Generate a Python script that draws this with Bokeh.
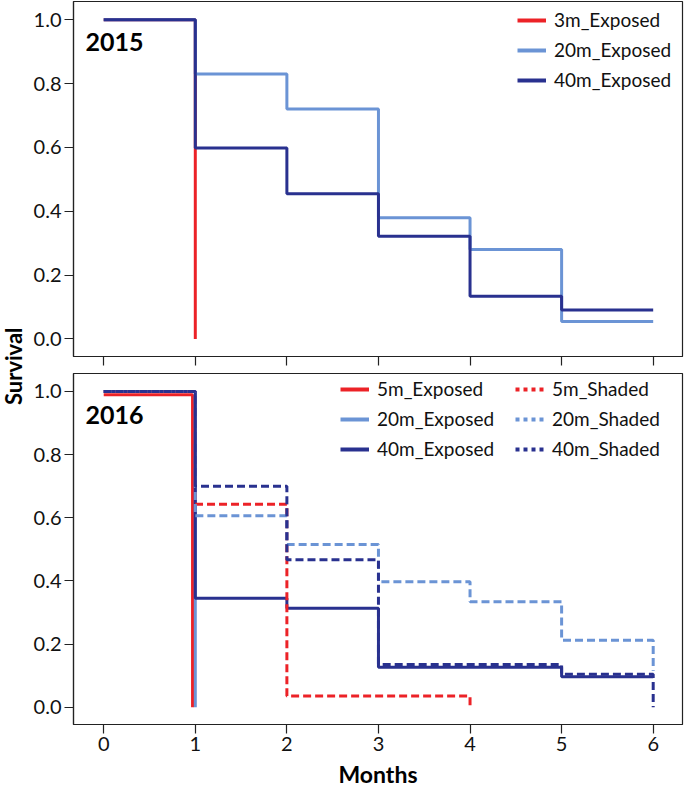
from bokeh.plotting import figure
from bokeh.layouts import row, column
from bokeh.models import (Legend, LegendItem, Label, FixedTicker, Range1d,
                          PrintfTickFormatter)
from bokeh.embed import file_html
from bokeh.resources import INLINE
import math

# ---------------- data ----------------
months = [0, 1, 2, 3, 4, 5, 6]
y_ticks = [0.0, 0.2, 0.4, 0.6, 0.8, 1.0]

# 2015
t15_3m_exp = [0, 1]
s15_3m_exp = [1.0, 0.0]
t15_20m_exp = [0, 1, 2, 3, 4, 5, 6]
s15_20m_exp = [1.0, 0.83, 0.72, 0.38, 0.28, 0.055, 0.055]
t15_40m_exp = [0, 1, 2, 3, 4, 5, 6]
s15_40m_exp = [1.0, 0.598, 0.455, 0.322, 0.134, 0.091, 0.091]

# 2016
t16_5m_exp = [0, 0.97]
s16_5m_exp = [0.99, 0.0]
t16_20m_exp = [0, 1]
s16_20m_exp = [1.0, 0.0]
t16_40m_exp = [0, 1, 2, 3, 5, 6]
s16_40m_exp = [1.0, 0.345, 0.313, 0.126, 0.096, 0.096]
t16_5m_sh = [0, 1, 2, 4]
s16_5m_sh = [1.0, 0.643, 0.035, 0.0]
t16_20m_sh = [0, 1, 2, 3, 4, 5, 6]
s16_20m_sh = [1.0, 0.606, 0.515, 0.397, 0.334, 0.212, 0.115]
t16_40m_sh = [0, 1, 2, 3, 5, 6]
s16_40m_sh = [1.0, 0.70, 0.467, 0.135, 0.104, 0.0]

labels15 = ["3m_Exposed", "20m_Exposed", "40m_Exposed"]
labels16a = ["5m_Exposed", "20m_Exposed", "40m_Exposed"]
labels16b = ["5m_Shaded", "20m_Shaded", "40m_Shaded"]

RED = "#ec2227"
LBLUE = "#6b94d5"
NAVY = "#29318f"
FONT = "Lato"
TXT = "#111111"

LAB_W = 28
W = 656
X_RANGE = (-0.33, 6.32)
Y_RANGE = (-0.055, 1.057)
NAN = float("nan")


def make_panel(height, border_bottom, show_labels):
    p = figure(width=W, height=height, output_backend="svg", toolbar_location=None,
               x_range=Range1d(*X_RANGE), y_range=Range1d(*Y_RANGE),
               min_border_left=45, min_border_right=2, min_border_top=1,
               min_border_bottom=border_bottom)
    p.xgrid.visible = False
    p.ygrid.visible = False
    p.outline_line_color = "#222222"
    p.outline_line_width = 1.2
    p.background_fill_color = "white"
    p.border_fill_color = "white"
    for ax in (p.xaxis[0], p.yaxis[0]):
        ax.axis_line_color = "#222222"
        ax.axis_line_width = 1.2
        ax.major_tick_line_color = "#222222"
        ax.major_tick_line_width = 1.2
        ax.major_tick_out = 9
        ax.major_tick_in = 0
        ax.minor_tick_line_color = None
        ax.major_label_text_font = FONT
        ax.major_label_text_font_size = "20px"
        ax.major_label_text_color = TXT
        ax.major_label_standoff = 3
    p.yaxis.ticker = FixedTicker(ticks=y_ticks)
    p.yaxis.formatter = PrintfTickFormatter(format="%.1f")
    p.xaxis.ticker = FixedTicker(ticks=months)
    if not show_labels:
        p.xaxis.major_label_overrides = {m: "" for m in months}
        p.xaxis.major_label_text_font_size = "1px"
        p.xaxis.major_label_standoff = 0
    return p


def legend_at(p, labels, colors, dash, x, y):
    items = []
    for lab, col in zip(labels, colors):
        r = p.line(x=[NAN], y=[NAN], line_color=col, line_width=4, line_dash=dash)
        items.append(LegendItem(label=lab, renderers=[r]))
    lg = Legend(items=items, location=(x, y), padding=0, margin=0,
                border_line_color=None, background_fill_alpha=0,
                glyph_width=29, glyph_height=20, label_height=20,
                label_standoff=8, spacing=7,
                label_text_font=FONT, label_text_font_size="19px",
                label_text_color=TXT, label_text_baseline="middle")
    p.add_layout(lg, "center")


# ---------------- top panel (2015) ----------------
top = make_panel(372, 16, False)
top.step(t15_3m_exp, s15_3m_exp, mode="after", line_color=RED, line_width=3)
top.step(t15_20m_exp, s15_20m_exp, mode="after", line_color=LBLUE, line_width=3)
top.step(t15_40m_exp, s15_40m_exp, mode="after", line_color=NAVY, line_width=3)
legend_at(top, labels15, [RED, LBLUE, NAVY], "solid", 444, 265)
top.add_layout(Label(x=-0.2, y=0.93, text="2015", text_font=FONT,
                     text_font_size="25px", text_font_style="bold",
                     text_color="#000000", text_baseline="middle"))

# ---------------- bottom panel (2016) ----------------
bot = make_panel(418, 63, True)
bot.step(t16_5m_exp, s16_5m_exp, mode="after", line_color=RED, line_width=3)
bot.step(t16_20m_exp, s16_20m_exp, mode="after", line_color=LBLUE, line_width=3)
bot.step(t16_40m_exp, s16_40m_exp, mode="after", line_color=NAVY, line_width=3)
bot.step(t16_5m_sh, s16_5m_sh, mode="after", line_color=RED, line_width=3, line_dash="8 4")
bot.step(t16_20m_sh, s16_20m_sh, mode="after", line_color=LBLUE, line_width=3, line_dash="8 4")
bot.step(t16_40m_sh, s16_40m_sh, mode="after", line_color=NAVY, line_width=3, line_dash="8 4")
legend_at(bot, labels16a, [RED, LBLUE, NAVY], "solid", 267, 264)
legend_at(bot, labels16b, [RED, LBLUE, NAVY], "4 4", 442, 264)
bot.add_layout(Label(x=-0.2, y=0.925, text="2016", text_font=FONT,
                     text_font_size="25px", text_font_style="bold",
                     text_color="#000000", text_baseline="middle"))
bot.xaxis.axis_label = "Months"
bot.xaxis.axis_label_text_font = FONT
bot.xaxis.axis_label_text_font_size = "23px"
bot.xaxis.axis_label_text_font_style = "bold"
bot.xaxis.axis_label_text_color = "#000000"
bot.xaxis.axis_label_standoff = 6

# ---------------- y label ----------------
lab = figure(width=LAB_W, height=790, output_backend="svg", toolbar_location=None,
             x_range=Range1d(0, 1), y_range=Range1d(0, 1),
             min_border=0, outline_line_color=None)
lab.axis.visible = False
lab.xgrid.visible = False
lab.ygrid.visible = False
lab.add_layout(Label(x=13 / LAB_W, y=0.537, text="Survival", angle=math.pi / 2,
                     text_font=FONT, text_font_size="22px", text_font_style="bold",
                     text_color="#000000", text_align="center",
                     text_baseline="middle"))

layout = row(lab, column(top, bot))

open("out.html", "w").write(file_html(layout, INLINE))
